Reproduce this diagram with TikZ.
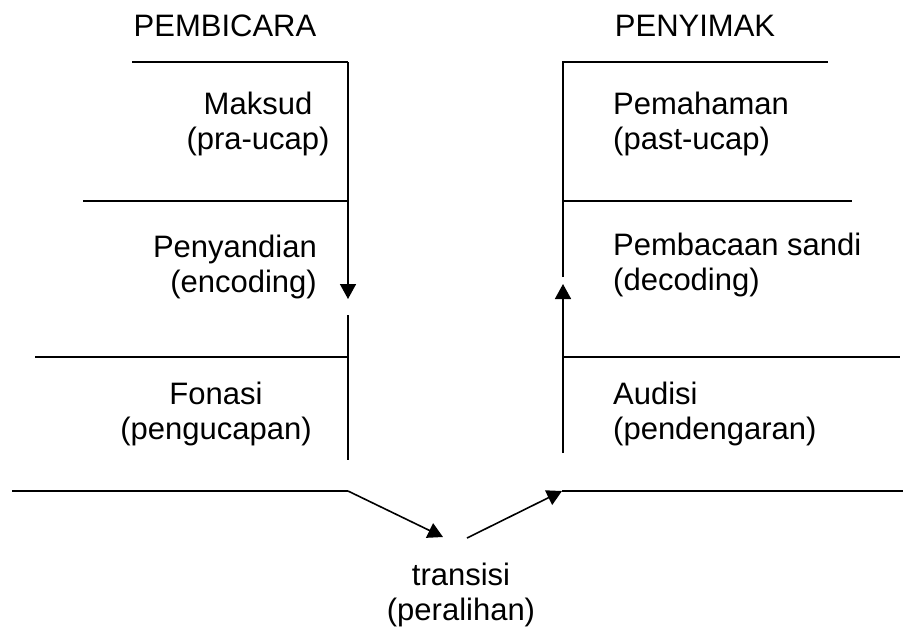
\documentclass[tikz,border=0pt]{standalone}
\usepackage{fontspec}
\setmainfont{Liberation Sans}
\usetikzlibrary{arrows.meta, positioning}
\tikzset{
  label/.style={font=\fontsize{31}{35}\selectfont, inner sep=0pt},
  rule/.style={line width=1.6pt, color=black},
  flowarrow/.style={-{Triangle[length=15pt, width=16pt]}, line width=1.6pt, color=black}
}

\begin{document}
\begin{tikzpicture}[x=1pt, y=-1pt]
  \useasboundingbox (0,0) rectangle (913,633);

  % headers
  \node[label, anchor=base] (pembicara) at (225,36) {PEMBICARA};
  \node[label, anchor=base] (penyimak) at (695,36) {PENYIMAK};

  % speaker side
  \coordinate (spkA) at (132,62);
  \coordinate (spkTop) at (348,62);
  \coordinate (spkTip) at (348,299);
  \coordinate (spkB) at (348,315);
  \coordinate (spkC) at (348,460);
  \coordinate (spkL1) at (83,201);
  \coordinate (spkR1) at (348,201);
  \coordinate (spkL2) at (35,357);
  \coordinate (spkR2) at (348,357);
  \coordinate (spkL3) at (12,491);
  \coordinate (spkOut) at (348,491);

  \draw[rule] (spkA) -- (spkTop);
  \draw[flowarrow] (spkTop) -- (spkTip);
  \draw[rule] (spkB) -- (spkC);
  \draw[rule] (spkL1) -- (spkR1);
  \draw[rule] (spkL2) -- (spkR2);
  \draw[rule] (spkL3) -- (spkOut);

  \node[label, anchor=base, align=center] (maksud) at (258,149) {Maksud\\(pra-ucap)};
  \node[label, anchor=base east, align=right] (penyandian) at (317,292) {Penyandian\\(encoding)};
  \node[label, anchor=base, align=center] (fonasi) at (216,439) {Fonasi\\(pengucapan)};

  % listener side
  \coordinate (lsnIn) at (562,491);
  \coordinate (lsnR3) at (903,491);
  \coordinate (lsnC) at (563,453);
  \coordinate (lsnTip) at (563,284);
  \coordinate (lsnB) at (563,277);
  \coordinate (lsnTop) at (563,62);
  \coordinate (lsnA) at (828,62);
  \coordinate (lsnL1) at (563,201);
  \coordinate (lsnR1) at (852,201);
  \coordinate (lsnL2) at (563,357);
  \coordinate (lsnR2) at (900,357);

  \draw[flowarrow] (lsnC) -- (lsnTip);
  \draw[rule] (lsnB) -- (lsnTop) -- (lsnA);
  \draw[rule] (lsnL1) -- (lsnR1);
  \draw[rule] (lsnL2) -- (lsnR2);
  \draw[rule] (lsnIn) -- (lsnR3);

  \node[label, anchor=base west, align=left] (pemahaman) at (613,149) {Pemahaman\\(past-ucap)};
  \node[label, anchor=base west, align=left] (pembacaan) at (613,290) {Pembacaan sandi\\(decoding)};
  \node[label, anchor=base west, align=left] (audisi) at (613,439) {Audisi\\(pendengaran)};

  % transition
  \coordinate (trsIn) at (443,537);
  \coordinate (trsOut) at (467,538);
  \draw[flowarrow] (spkOut) -- (trsIn);
  \draw[flowarrow] (trsOut) -- (lsnIn);
  \node[label, anchor=base, align=center] (transisi) at (461,620) {transisi\\(peralihan)};
\end{tikzpicture}
\end{document}
